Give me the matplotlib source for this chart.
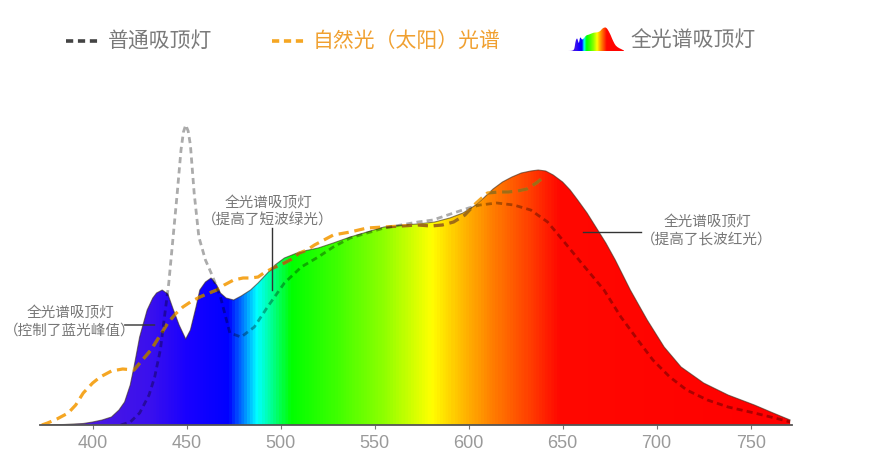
import numpy as np
import matplotlib
matplotlib.use('Agg')
import matplotlib.pyplot as plt
from matplotlib.colors import LinearSegmentedColormap
from matplotlib.patches import Polygon

plt.rcParams['font.family'] = ['Noto Sans CJK SC', 'DejaVu Sans']

# full spectrum ceiling lamp (filled, rainbow)
fs_nm = [373, 385, 395, 400, 405, 410, 414, 417, 420, 422, 425, 429, 432, 434, 437, 440, 443, 446,
         449.5, 452, 455, 457, 460, 463, 466, 468, 471, 475, 479, 484, 488, 493, 497, 502, 510, 520,
         528, 537, 546, 555, 565, 573, 582, 590, 597, 603, 608, 613, 618, 623, 628, 633, 637, 641,
         645, 650, 654, 658, 663, 668, 673, 678, 686, 695, 704, 713, 725, 738, 752, 762, 771]
fs_val = [0, 0.5, 1.5, 3, 5, 8, 15, 23, 40, 58, 88, 115, 127, 132, 135, 131, 115, 100,
          86, 95, 118, 135, 143, 147, 140, 132, 127, 125, 129, 135, 142, 152, 160, 167, 173, 177,
          182, 188, 193, 198, 200, 201, 203, 207, 212, 219, 227, 236, 243, 248, 252, 254, 255, 254,
          250, 243, 235, 225, 212, 197, 182, 165, 135, 105, 78, 58, 42, 30, 20, 12, 5]

# natural (sun) light
sun_nm = [373, 376, 381, 387, 391, 395, 400, 404, 410, 416, 422, 426, 431, 436, 440, 444, 448, 452,
          457, 462, 466, 470, 475, 480, 484, 488, 491, 496, 502, 506, 510, 514, 518, 522, 528, 537,
          546, 555, 564, 573, 580, 586, 592, 598, 604, 610, 616, 621, 626, 631, 636, 640]
sun_val = [0, 2, 6, 12, 20, 32, 42, 48, 54, 56, 55, 64, 75, 90, 102, 111, 118, 123,
           128, 132, 135, 140, 145, 147, 147, 148, 152, 157, 162, 166, 172, 175, 180, 184, 190, 193,
           197, 198, 199, 200, 199, 200, 203, 210, 222, 232, 233, 233, 234, 236, 242, 248]

# ordinary ceiling lamp
ord_nm = [415, 420, 425, 430, 433, 436, 438, 440.5, 442.5, 445, 447, 448.3, 449.5, 450.8, 452, 454,
          456.5, 460, 463.5, 468, 473, 479, 486, 493, 502, 511, 520, 528, 537, 546, 555, 564, 573,
          581, 592, 600, 606, 615, 624, 633, 642, 650, 660, 672, 681, 690, 698, 707, 716, 727, 738,
          752, 765, 771]
ord_val = [0, 3, 12, 30, 48, 75, 105, 142, 182, 232, 275, 293, 300, 294, 280, 232,
           188, 165, 150, 128, 92, 88, 98, 118, 142, 158, 168, 178, 187, 192, 197, 200, 203,
           205, 212, 217, 220, 222, 220, 215, 203, 185, 162, 135, 108, 85, 65, 48, 35, 25, 18,
           12, 6, 3]

xticks = [400, 450, 500, 550, 600, 650, 700, 750]

# wavelength -> colour stops
stops_nm = [373, 430, 450, 472, 487, 505, 530, 555, 580, 595, 612, 632, 648, 771]
stops_col = ['#5a1fd9', '#3a10ee', '#1800ff', '#0000ff', '#00ffff', '#00ff00', '#40ff00',
             '#90ff00', '#ffff00', '#ffc000', '#ff8000', '#ff4000', '#ff0800', '#ff0000']
x0, x1 = 373, 771
spec_cmap = LinearSegmentedColormap.from_list(
    'spec', [((n - x0) / (x1 - x0), c) for n, c in zip(stops_nm, stops_col)])


def spectrum_fill(ax, edge=True):
    verts = np.column_stack([np.r_[fs_nm, fs_nm[::-1]], np.r_[fs_val, np.zeros(len(fs_val))]])
    patch = Polygon(verts, closed=True, facecolor='none', edgecolor='none')
    ax.add_patch(patch)
    grad = np.linspace(0, 1, 800)[np.newaxis, :]
    im = ax.imshow(grad, extent=[x0, x1, 0, max(fs_val)], aspect='auto', cmap=spec_cmap,
                   origin='lower', zorder=1)
    im.set_clip_path(patch)
    if edge:
        ax.plot(fs_nm, fs_val, color='#3a2a1a', lw=0.8, alpha=0.6, zorder=2)
    return patch


fig = plt.figure(figsize=(8.73, 4.55), dpi=100)
ax = fig.add_axes([40 / 873, 30 / 455, 752 / 873, 320 / 455])
patch = spectrum_fill(ax)

# sunlight dashed line (darker where it crosses the fill)
ax.plot(sun_nm, sun_val, color='#f5a623', lw=2.3, dashes=(3.2, 1.8), zorder=3)
sh = ax.plot(sun_nm, sun_val, color='black', lw=2.3, dashes=(3.2, 1.8), alpha=0.35, zorder=3)[0]
sh.set_clip_path(patch)

# ordinary lamp dashed line
ax.plot(ord_nm, ord_val, color='black', alpha=0.33, lw=2.0, dashes=(2.2, 1.5), zorder=3)

ax.set_xlim(x0 - 1, x1 + 1)
ax.set_ylim(0, 320)
for name in ['top', 'right', 'left']:
    ax.spines[name].set_visible(False)
ax.spines['bottom'].set_color('#555555')
ax.spines['bottom'].set_linewidth(1.3)
ax.spines['bottom'].set_zorder(4)
ax.set_yticks([])
ax.set_xticks(xticks)
ax.set_xticklabels([str(t) for t in xticks], family='Liberation Sans', fontsize=13, color='#9a9a9a')
ax.tick_params(axis='x', length=3, width=0.8, color='#777777', pad=4)

# annotations
ann_col = '#777777'
ax.text(415, 343 - 425 + 425 - 0, '', fontsize=1)
ax.annotate('', xy=(434.5, 100), xytext=(415.5, 100),
            arrowprops=dict(arrowstyle='-', color='#333333', lw=1.0))
fig.text(70 / 873, 1 - 322 / 455, '全光谱吸顶灯\n（控制了蓝光峰值）', ha='center', va='center',
         fontsize=10.5, color=ann_col, linespacing=1.35)

ax.plot([495.6, 495.6], [135, 197], color='#333333', lw=1.0, zorder=4)
fig.text(268 / 873, 1 - 212 / 455, '全光谱吸顶灯\n（提高了短波绿光）', ha='center', va='center',
         fontsize=10.5, color=ann_col, linespacing=1.35)

ax.plot([661, 691.5], [193, 193], color='#333333', lw=1.0, zorder=4)
fig.text(707 / 873, 1 - 231 / 455, '全光谱吸顶灯\n（提高了长波红光）', ha='center', va='center',
         fontsize=10.5, color=ann_col, linespacing=1.35)

# legend
ly = 1 - 41 / 455
fig.add_artist(plt.Line2D([66 / 873, 100 / 873], [ly, ly], color='#444444', lw=2.6,
                          dashes=(2.0, 1.3), transform=fig.transFigure))
fig.text(108 / 873, ly, '普通吸顶灯', va='center', ha='left', fontsize=15, color='#7a7a7a')
fig.add_artist(plt.Line2D([272 / 873, 306 / 873], [ly, ly], color='#f5a623', lw=2.6,
                          dashes=(2.0, 1.3), transform=fig.transFigure))
fig.text(313 / 873, ly, '自然光（太阳）光谱', va='center', ha='left', fontsize=15, color='#f0a030')
icon = fig.add_axes([568 / 873, 1 - 51 / 455, 56 / 873, 24 / 455])
spectrum_fill(icon, edge=False)
icon.set_xlim(x0, x1)
icon.set_ylim(0, 260)
icon.axis('off')
fig.text(630 / 873, ly, '全光谱吸顶灯', va='center', ha='left', fontsize=15, color='#7a7a7a')

fig.savefig('out.png', dpi=100)
